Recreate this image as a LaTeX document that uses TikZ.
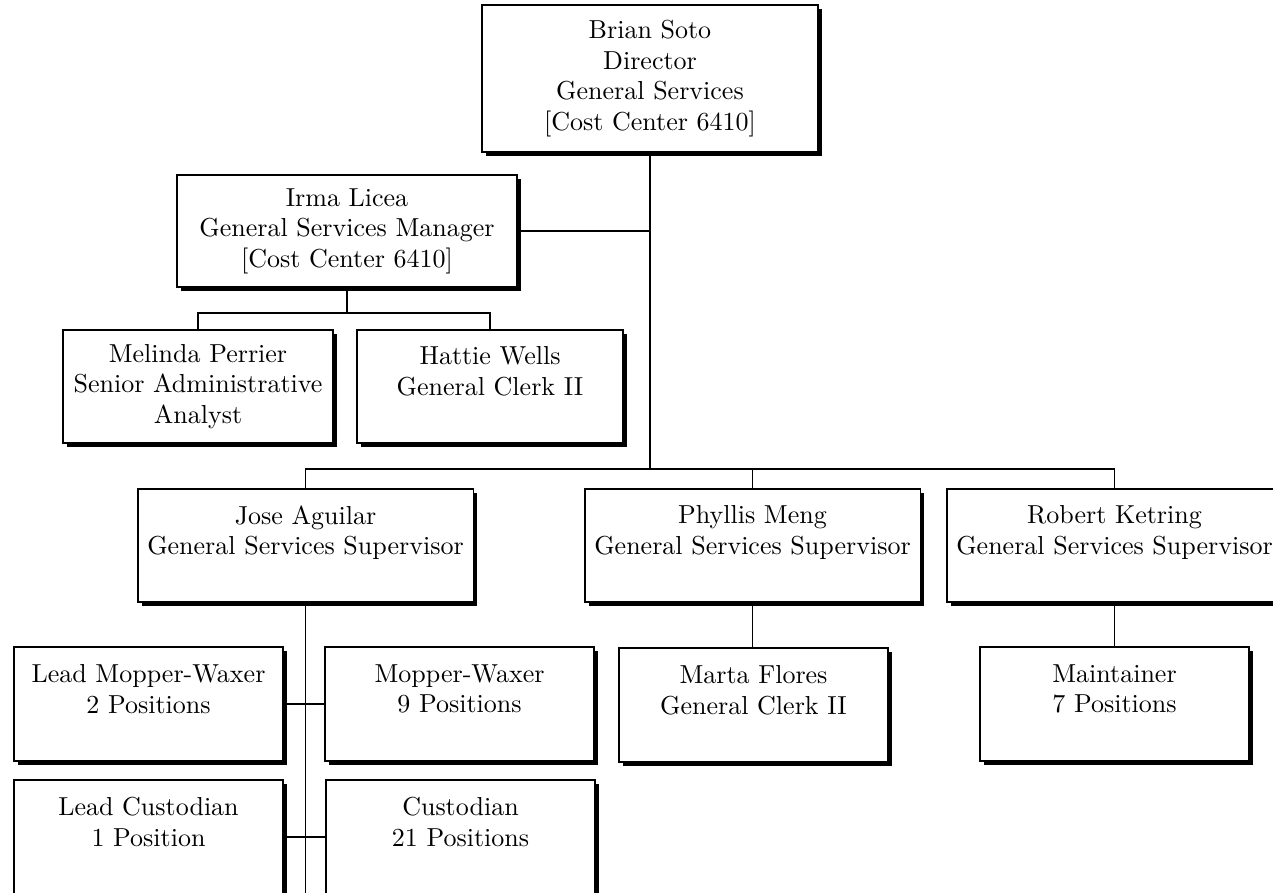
\documentclass[tikz,border=0pt]{standalone}
\usepackage{fontspec}
\setmainfont{lmroman10-regular}[Extension=.otf]
\usepackage{tikz}
\usetikzlibrary{positioning,shadows}

\begin{document}
\begin{tikzpicture}[
  x=0.02cm, y=-0.02cm,
  font=\fontsize{14.8}{17.4}\selectfont,
  box/.style={draw=black, line width=1.1pt, fill=white, align=center, inner sep=0pt, minimum width=6.72cm, minimum height=2.26cm, drop shadow={shadow xshift=0.08cm, shadow yshift=-0.08cm, fill=black, opacity=1}},
  small/.style={box, minimum width=5.38cm, minimum height=2.28cm},
  ln/.style={line width=0.9pt, black}
]
\useasboundingbox (0,0) rectangle (1273,892);
\clip (0,0) rectangle (1273,892);

\node[box, minimum height=2.94cm] (bs) at (650,78.5) {Brian Soto\\Director\\General Services\\{[Cost Center 6410]}};
\node[box, minimum width=6.8cm, minimum height=2.24cm] (il) at (347,231) {Irma Licea\\General Services Manager\\{[Cost Center 6410]}};
\node[box, minimum width=5.4cm] (mp) at (198,386.5) {Melinda Perrier\\Senior Administrative\\Analyst};
\node[box, minimum width=5.32cm] (hw) at (490,386.5) {Hattie Wells\\General Clerk II\\~};
\node[box] (ja) at (305.5,545.5) {Jose Aguilar\\General Services Supervisor\\~};
\node[box] (pm) at (752.5,545.5) {Phyllis Meng\\General Services Supervisor\\~};
\node[box] (rk) at (1114.5,545.5) {Robert Ketring\\General Services Supervisor\\~};
\node[small] (lmw) at (148.5,704) {Lead Mopper-Waxer\\2 Positions\\~};
\node[small] (mw) at (459.5,704) {Mopper-Waxer\\9 Positions\\~};
\node[small] (lc) at (148.5,837) {Lead Custodian\\1 Position\\~};
\node[small] (cu) at (460.5,837) {Custodian\\21 Positions\\~};
\node[small] (mf) at (753.5,705) {Marta Flores\\General Clerk II\\~};
\node[small] (mt) at (1114.5,704) {Maintainer\\7 Positions\\~};

% bus lines
\coordinate (j1) at (650,469);
\coordinate (j2) at (347,313);
\coordinate (jb) at (305.5,900);
\draw[ln] (bs.south) -- (j1);
\draw[ln] (il.east) -- (il.east -| bs.south);
\draw[ln] (il.south) -- (j2);
\draw[ln] (mp.north) |- (j2);
\draw[ln] (hw.north) |- (j2);
\draw[ln] (ja.north) |- (j1);
\draw[ln] (pm.north) -- (pm.north |- j1);
\draw[ln] (rk.north) |- (j1);
\draw[ln] (ja.south) -- (jb);
\draw[ln] (lmw.east) -- (mw.west);
\draw[ln] (lc.east) -- (cu.west);
\draw[ln] (pm.south) -- (pm.south |- mf.north);
\draw[ln] (rk.south) -- (mt.north);
\end{tikzpicture}
\end{document}
